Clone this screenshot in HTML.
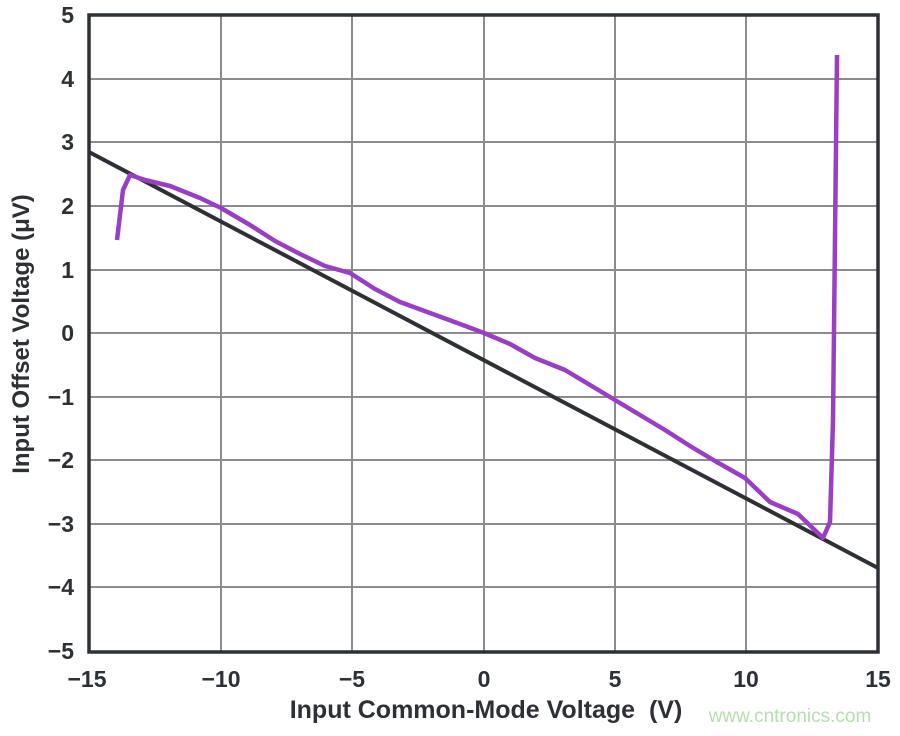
<!DOCTYPE html>
<html><head><meta charset="utf-8"><style>
html,body{margin:0;padding:0;background:#fff;}
svg text{font-family:"Liberation Sans",sans-serif;font-weight:bold;fill:#2d3035;}
</style></head><body>
<svg width="900" height="731" viewBox="0 0 900 731" xmlns="http://www.w3.org/2000/svg">
<g stroke="#8c8c8e" stroke-width="2">
<line x1="221" y1="15" x2="221" y2="652"/><line x1="352" y1="15" x2="352" y2="652"/>
<line x1="484" y1="15" x2="484" y2="652"/><line x1="615" y1="15" x2="615" y2="652"/>
<line x1="746" y1="15" x2="746" y2="652"/>
<line x1="89" y1="79" x2="878" y2="79"/><line x1="89" y1="142" x2="878" y2="142"/>
<line x1="89" y1="206" x2="878" y2="206"/><line x1="89" y1="270" x2="878" y2="270"/>
<line x1="89" y1="333" x2="878" y2="333"/><line x1="89" y1="397" x2="878" y2="397"/>
<line x1="89" y1="460" x2="878" y2="460"/><line x1="89" y1="524" x2="878" y2="524"/>
<line x1="89" y1="587" x2="878" y2="587"/>
</g>
<line x1="89" y1="152" x2="878" y2="568" stroke="#2d3035" stroke-width="4"/>
<polyline fill="none" stroke="#9a3fc4" stroke-width="4.5" stroke-linejoin="round" points="117,240 123,190 130,175 145,180 170,186 200,198 221,208 250,225 275,241 300,254 325,266 350,273 375,289 400,302 430,313 460,324 484,333 510,344 535,358 565,370 590,385 615,400 640,415 665,430 690,446 715,461 745,478 770,502 798,514 823,538 830,522 833,420 837,55"/>
<rect x="89" y="15" width="789" height="637" fill="none" stroke="#2d3035" stroke-width="3.5"/>
<g font-size="23" text-anchor="end">
<text x="74" y="23">5</text><text x="74" y="87">4</text><text x="74" y="150">3</text>
<text x="74" y="214">2</text><text x="74" y="278">1</text><text x="74" y="341">0</text>
<text x="74" y="405">−1</text><text x="74" y="468">−2</text><text x="74" y="532">−3</text>
<text x="74" y="595">−4</text><text x="74" y="659">−5</text>
</g>
<g font-size="23" text-anchor="middle">
<text x="87" y="687">−15</text><text x="221" y="687">−10</text><text x="352" y="687">−5</text>
<text x="484" y="687">0</text><text x="615" y="687">5</text><text x="746" y="687">10</text>
<text x="878" y="687">15</text>
</g>
<text x="486" y="718" font-size="25" text-anchor="middle" xml:space="preserve">Input Common-Mode Voltage  (V)</text>
<text transform="translate(29,334) rotate(-90)" font-size="24" text-anchor="middle">Input Offset Voltage (μV)</text>
<text x="790" y="722" font-size="19" text-anchor="middle" style="font-weight:normal;fill:#b5deb0">www.cntronics.com</text>
</svg>
</body></html>
